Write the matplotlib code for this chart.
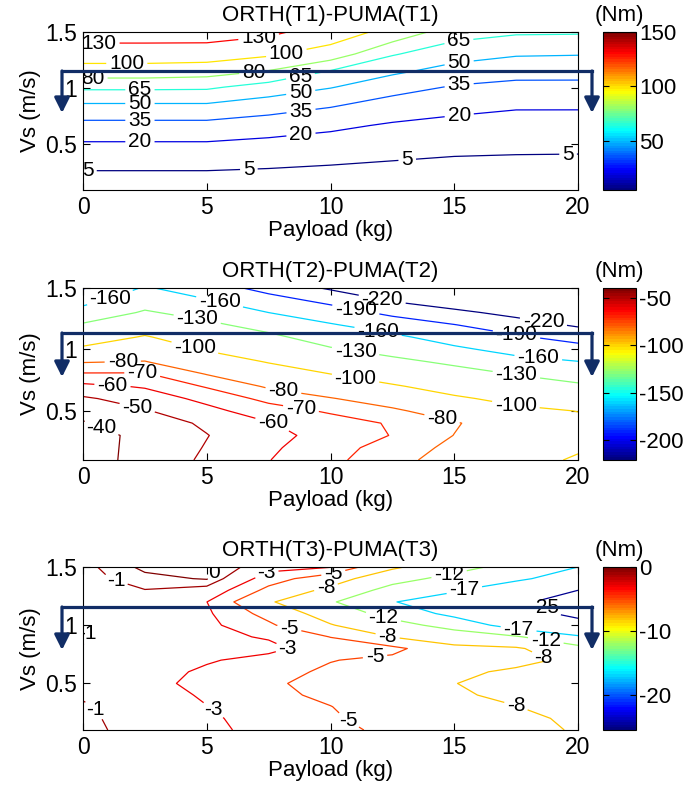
import matplotlib
matplotlib.use('Agg')
import matplotlib.pyplot as plt
from matplotlib.colors import Normalize, LinearSegmentedColormap
from matplotlib.cm import ScalarMappable
from matplotlib.patches import FancyArrowPatch

plt.rcParams['font.family'] = ['Liberation Sans', 'DejaVu Sans']
plt.rcParams['axes.unicode_minus'] = False

# payload grid (kg), same for the three maps
payload = [0, 2.5, 5, 7.5, 10, 12.5, 15, 17.5, 20]

# ORTH(T1)-PUMA(T1), rows follow vs_t1
vs_t1 = [0.09, 0.272, 0.469, 0.665, 0.862, 1.009, 1.156, 1.304, 1.5]
dt1 = [
    [-4, -4, -4, -4.5, -5.3, -5.8, -6.5, -6.1, -6.4],
    [5.5, 5.5, 5.5, 4.5, 3.1, 1.7, 0.4, 0.2, 0],
    [16.3, 16.3, 16.3, 14.5, 12.5, 10, 8.1, 7.3, 7.1],
    [30.3, 30.3, 30.3, 26.8, 22.9, 18.3, 15.8, 14.4, 14.3],
    [50, 50, 50, 44, 37.6, 30, 25.2, 22.3, 22.3],
    [68, 68, 67.5, 59, 50.9, 40.8, 33.8, 31, 31],
    [90, 90, 87.7, 80, 65, 53.3, 44.8, 40.7, 40.5],
    [113.3, 113.3, 112.4, 103.3, 89, 66.3, 56.2, 51.5, 50.8],
    [147, 147, 147, 136.7, 114.8, 91.3, 71.5, 67, 66.6],
]
levels_t1 = [5, 20, 35, 50, 65, 80, 100, 130]

# ORTH(T2)-PUMA(T2) and ORTH(T3)-PUMA(T3), rows follow vs
vs = [0.1, 0.2, 0.3, 0.4, 0.5, 0.6, 0.7, 0.8, 0.9, 1.0, 1.1, 1.2, 1.3, 1.4, 1.5]
dt2 = [
    [-35.5, -43.5, -51.7, -59.7, -67.6, -76.3, -85.1, -93.6, -102],
    [-35.7, -43.1, -50.6, -58.3, -66, -74.3, -82.6, -89.9, -98],
    [-35.8, -42.8, -49.7, -56.9, -63.7, -70.4, -80.2, -86.5, -95],
    [-39.2, -45.1, -51.5, -59.4, -65.2, -71.1, -78.9, -88, -96],
    [-43.6, -49.2, -57.2, -65.2, -71.5, -77.7, -87.2, -95.7, -100.4],
    [-48.5, -54.8, -62.7, -73.0, -79.2, -87.0, -97.0, -105.6, -113.2],
    [-57.5, -61.0, -71.0, -81.5, -89.5, -97.8, -108.4, -118.1, -125.6],
    [-69.0, -69.0, -80.5, -91.2, -100, -110.7, -120.6, -131, -141.5],
    [-80.8, -79.5, -90.8, -101.0, -113.6, -124, -134.6, -151, -159.3],
    [-95.9, -88.8, -101.3, -112.6, -127.3, -138.6, -154.6, -169.3, -179.1],
    [-111.4, -98.1, -113.0, -124.2, -142.3, -154.2, -172.3, -186.1, -200.5],
    [-127.0, -112, -124.6, -140, -157.7, -173.9, -189.2, -206.9, -224],
    [-147.9, -127, -139.9, -160, -176.5, -196.9, -213.2, -228.8, -247],
    [-169.9, -142, -158.2, -178.8, -197.9, -222.6, -237.6, -250, -270],
    [-192, -157, -176, -200, -224, -248, -262, -270, -293],
]
levels_t2 = [-220, -190, -160, -130, -100, -80, -70, -60, -50, -40]

dt3 = [
    [-0.6, -1.6, -2.5, -3.7, -4.3, -5.6, -6.6, -7.3, -8.2],
    [-0.75, -1.58, -2.65, -3.9, -4.7, -6.0, -7.0, -7.5, -8.4],
    [-0.9, -1.5, -2.95, -4.1, -4.95, -6.4, -7.4, -7.95, -9.0],
    [-1.1, -1.9, -3.3, -4.4, -5.5, -6.9, -7.7, -8.5, -9.3],
    [-1.4, -2.5, -3.48, -4.6, -5.9, -7.2, -7.95, -8.9, -9.5],
    [-1.5, -2.4, -3.25, -4.2, -5.4, -6.6, -7.5, -8.4, -9.4],
    [-1.3, -2.1, -2.85, -3.5, -4.9, -5.6, -6.8, -7.3, -8.6],
    [-1.05, -1.9, -2.5, -2.6, -3.9, -4.3, -7.2, -7.6, -10.4],
    [-0.9, -2.0, -2.6, -3.15, -5.05, -8.1, -9.8, -11.5, -16.3],
    [-0.95, -2.1, -2.5, -4.6, -7.8, -10.5, -13.5, -19.5, -22.8],
    [-1.15, -2.1, -2.7, -5.8, -9.5, -13.5, -18.5, -22.5, -26.5],
    [-1.4, -1.8, -2.98, -7.6, -11.5, -16.8, -19.5, -23.8, -28],
    [-1.5, -1.05, -1.6, -5.6, -8.8, -13.5, -16.5, -21.5, -25],
    [-1.5, -0.35, 0.1, -4.0, -6.4, -10.5, -13.3, -15.8, -20.5],
    [-1.4, 0.3, 0.6, -2.3, -2.9, -7.4, -10.5, -13.5, -17],
]
levels_t3 = [-25, -17, -12, -8, -5, -3, -1, 0]

# where the contour labels sit (payload, Vs)
lab_t1 = [(0.65, 1.39), (7.1, 1.45), (1.77, 1.223), (8.2, 1.33), (0.4, 1.09),
          (6.9, 1.15), (2.3, 0.985), (8.8, 1.09), (15.2, 1.387), (2.3, 0.866),
          (8.8, 0.955), (15.2, 1.22), (2.3, 0.73), (8.8, 0.81), (15.2, 1.02),
          (2.3, 0.54), (8.8, 0.6), (15.2, 0.76), (0.2, 0.26), (6.7, 0.286),
          (13.1, 0.36), (19.6, 0.40)]
lab_t2 = [(1.09, 1.42), (5.5, 1.37), (4.6, 1.23), (4.5, 1.0), (1.6, 0.945),
          (2.4, 0.81), (1.2, 0.74), (2.2, 0.535), (0.8, 0.385), (8.1, 0.67),
          (8.8, 0.51), (7.7, 0.43), (12.1, 1.42), (11.0, 1.30), (11.9, 1.12),
          (11.0, 0.97), (11.0, 0.75), (18.6, 1.22), (17.5, 1.10), (18.4, 0.945),
          (17.5, 0.78), (17.5, 0.56), (14.5, 0.43)]
lab_t3 = [(1.4, 1.43), (5.4, 1.43), (7.5, 1.41), (8.3, 0.94), (8.4, 0.79),
          (5.3, 0.28), (0.5, 0.28), (0.15, 0.93), (9.8, 1.34), (14.8, 1.43),
          (15.4, 1.31), (18.7, 1.17), (12.1, 1.04), (12.3, 0.90), (11.8, 0.73),
          (17.6, 0.97), (18.7, 0.87), (18.6, 0.73), (17.5, 0.31), (10.9, 0.24),
          (10.1, 1.46)]

# MATLAB style jet
mjet = LinearSegmentedColormap('mjet', {
    'red': [(0, 0, 0), (3 / 8, 0, 0), (5 / 8, 1, 1), (7 / 8, 1, 1), (1, 0.5, 0.5)],
    'green': [(0, 0, 0), (1 / 8, 0, 0), (3 / 8, 1, 1), (5 / 8, 1, 1), (7 / 8, 0, 0), (1, 0, 0)],
    'blue': [(0, 0.5, 0.5), (1 / 8, 1, 1), (3 / 8, 1, 1), (5 / 8, 0, 0), (1, 0, 0)],
}, N=64)

W, H = 698, 787
fig = plt.figure(figsize=(W / 100, H / 100), dpi=100)


def px_box(x0, y0, x1, y1):
    return [x0 / W, 1 - y1 / H, (x1 - x0) / W, (y1 - y0) / H]


panels = [
    (dt1, vs_t1, levels_t1, 5, 150, [50, 100, 150], 'ORTH(T1)-PUMA(T1)', lab_t1, (32, 190), 0.09),
    (dt2, vs, levels_t2, -221, -40, [-200, -150, -100, -50], 'ORTH(T2)-PUMA(T2)', lab_t2, (288, 460), 0.1),
    (dt3, vs, levels_t3, -25.5, 0, [-20, -10, 0], 'ORTH(T3)-PUMA(T3)', lab_t3, (567, 730), 0.1),
]

for z, yv, levels, vmin, vmax, cticks, title, labs, (top, bot), ylo in panels:
    ax = fig.add_axes(px_box(83, top, 578, bot))
    cax = fig.add_axes(px_box(603, top, 636, bot))
    norm = Normalize(vmin, vmax)
    cs = ax.contour(payload, yv, z, levels=levels, cmap=mjet, norm=norm, linewidths=0.9)
    texts = ax.clabel(cs, fmt='%d', fontsize=15, colors='k', inline=True,
                      inline_spacing=3, manual=labs)
    for t in texts:
        t.set_rotation(0)
        t.set_clip_on(True)
        t.set_clip_path(ax.patch)
    ax.set_xlim(0, 20)
    ax.set_ylim(ylo, 1.5)
    ax.set_xticks([0, 5, 10, 15, 20])
    ax.set_yticks([0.5, 1, 1.5])
    ax.set_yticklabels(['0.5', '1', '1.5'])
    ax.tick_params(direction='in', top=True, right=True, length=5, labelsize=16.5, pad=4)
    ax.set_xlabel('Payload (kg)', fontsize=16, labelpad=1)
    ax.set_ylabel('Vs (m/s)', fontsize=16, labelpad=3)
    ax.set_title(title, fontsize=16, pad=8)

    sm = ScalarMappable(norm=norm, cmap=mjet)
    fig.colorbar(sm, cax=cax, ticks=cticks)
    cax.tick_params(direction='in', left=True, right=True, length=4, labelsize=16, pad=2)
    cax.set_title('(Nm)', fontsize=16, pad=8)

# the overlaid bracket arrows
navy = '#112d66'
ov = fig.add_axes([0, 0, 1, 1], zorder=10)
ov.set_xlim(0, W)
ov.set_ylim(H, 0)
ov.axis('off')
for y_bar, y_tip in [(71, 113), (333, 377), (607, 650)]:
    ov.plot([62, 592], [y_bar, y_bar], color=navy, lw=2.3, solid_capstyle='projecting')
    for x in (62, 592):
        ov.add_patch(FancyArrowPatch((x, y_bar), (x, y_tip),
                                     arrowstyle='-|>,head_length=0.9,head_width=0.45',
                                     mutation_scale=10, color=navy, lw=2.3,
                                     shrinkA=0, shrinkB=0))

fig.savefig('out.png', dpi=100)
